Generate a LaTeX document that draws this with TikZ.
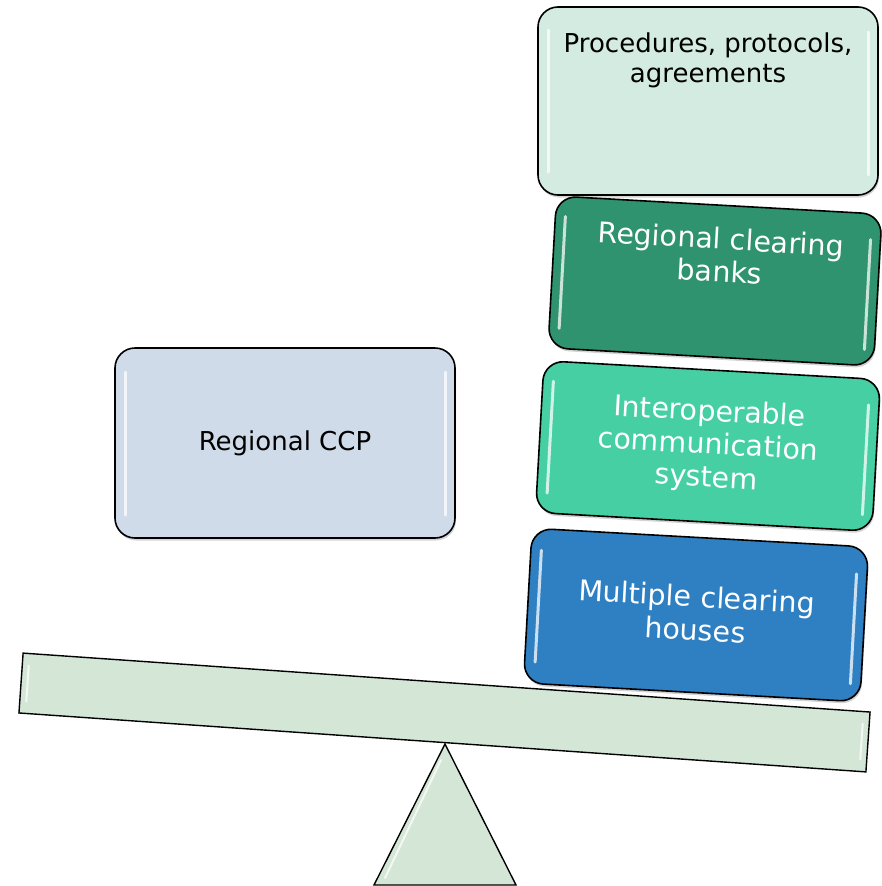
\documentclass[tikz,border=0pt]{standalone}
\usepackage{fontspec}
\setmainfont{DejaVu Sans}
\usetikzlibrary{shadows}
\definecolor{mintfill}{HTML}{D3EBE0}
\definecolor{bankfill}{HTML}{2E936E}
\definecolor{commfill}{HTML}{45CFA2}
\definecolor{housefill}{HTML}{2E80C2}
\definecolor{ccpfill}{HTML}{CFDBE8}
\definecolor{beamfill}{HTML}{D4E6D6}
\begin{document}
\begin{tikzpicture}[x=1pt,y=-1pt,
  card/.style={draw=black, line width=1.6pt, rounded corners=20pt, inner sep=0pt,
    drop shadow={shadow xshift=1pt, shadow yshift=-2.5pt, opacity=0.35}},
  darktext/.style={align=center, inner sep=0pt, text=black,
    font=\fontsize{26}{30}\selectfont},
  lighttext/.style={align=center, inner sep=0pt, text=white,
    font=\fontsize{28.5}{33}\selectfont},
  gloss/.style={draw=white, line width=3pt, line cap=round, opacity=0.75},
  plank/.style={draw=black, line width=1.4pt, fill=beamfill},
]
\useasboundingbox (0,0) rectangle (882,886);

% fulcrum
\coordinate (apex) at (445,744);
\coordinate (baseL) at (374,885);
\coordinate (baseR) at (516,885);
\draw[plank] (apex) -- (baseR) -- (baseL) -- cycle;
\draw[gloss, line width=2pt] (441,760) -- (385,878);

% tilted beam
\begin{scope}[shift={(444.5,712.5)}, rotate=-3.98, transform shape]
  \node[plank, minimum width=849pt, minimum height=60pt, inner sep=0pt] (beam) at (0,0) {};
  \draw[gloss, line width=2pt] (-418,-18) -- (-418,18);
  \draw[gloss, line width=2pt] (418,-18) -- (418,18);
\end{scope}

% left weight
\node[card, fill=ccpfill, minimum width=340pt, minimum height=190pt] (ccp) at (285,443) {};
\draw[gloss] (125,372) -- (125,515);
\draw[gloss] (445,372) -- (445,515);
\node[darktext] (ccptext) at (285,443) {Regional CCP};

% stack on the right
\node[card, fill=mintfill, minimum width=340pt, minimum height=188pt] (proc) at (708,101) {};
\draw[gloss] (548,30) -- (548,172);
\draw[gloss] (868,32) -- (868,175);
\node[darktext] (proctext) at (708,60) {Procedures, protocols,\\agreements};

\begin{scope}[shift={(715,281)}, rotate=-3.2, transform shape]
  \node[card, fill=bankfill, minimum width=326pt, minimum height=152pt] (bank) at (0,0) {};
  \draw[gloss] (-153,-56) -- (-153,56);
  \draw[gloss] (153,-50) -- (153,60);
  \node[lighttext] (banktext) at (4,-26) {Regional clearing\\banks};
\end{scope}

\begin{scope}[shift={(708,446)}, rotate=-3.2, transform shape]
  \node[card, fill=commfill, minimum width=337pt, minimum height=152pt] (comm) at (0,0) {};
  \draw[gloss] (-158,-56) -- (-158,56);
  \draw[gloss] (158,-50) -- (158,60);
  \node[lighttext] (commtext) at (0,0) {Interoperable\\communication\\system};
\end{scope}

\begin{scope}[shift={(696,615)}, rotate=-3.2, transform shape]
  \node[card, fill=housefill, minimum width=337pt, minimum height=155pt] (house) at (0,0) {};
  \draw[gloss] (-158,-56) -- (-158,56);
  \draw[gloss] (158,-50) -- (158,60);
  \node[lighttext] (housetext) at (0,-2) {Multiple clearing\\houses};
\end{scope}
\end{tikzpicture}
\end{document}
